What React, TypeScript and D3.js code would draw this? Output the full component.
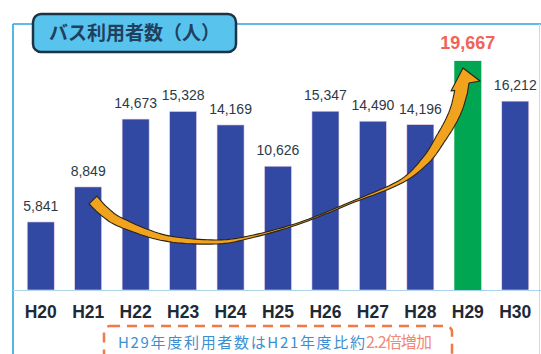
import React from "react";
import * as d3 from "d3";

const categories = ["H20", "H21", "H22", "H23", "H24", "H25", "H26", "H27", "H28", "H29", "H30"];
const values = [5841, 8849, 14673, 15328, 14169, 10626, 15347, 14490, 14196, 19667, 16212];
const highlight = "H29";
const title = "バス利用者数（人）";
const noteBlue = "H29年度利用者数はH21年度比約";
const noteRed = "2.2倍増加";

// decorative arrow centerline (pixels) and widths
const arrowPts: [number, number][] = [
  [93, 200], [105, 212], [122, 223], [165, 238], [215, 242], [250, 237], [300, 223],
  [350, 203], [400, 182], [426, 160], [441, 138], [451, 121], [457, 107], [461, 92],
];
const arrowW = [11, 10, 9, 6, 4, 2.5, 1.5, 1.5, 3.5, 8, 10, 11, 12, 13];

function catmull(pts: [number, number][], ws: number[], n = 12) {
  const out: { x: number; y: number; w: number }[] = [];
  for (let i = 0; i < pts.length - 1; i++) {
    const p0 = pts[Math.max(0, i - 1)], p1 = pts[i], p2 = pts[i + 1], p3 = pts[Math.min(pts.length - 1, i + 2)];
    for (let k = 0; k < n; k++) {
      const t = k / n, t2 = t * t, t3 = t2 * t;
      const f = (a: number, b: number, c: number, d: number) =>
        0.5 * (2 * b + (-a + c) * t + (2 * a - 5 * b + 4 * c - d) * t2 + (-a + 3 * b - 3 * c + d) * t3);
      out.push({ x: f(p0[0], p1[0], p2[0], p3[0]), y: f(p0[1], p1[1], p2[1], p3[1]), w: ws[i] + (ws[i + 1] - ws[i]) * t });
    }
  }
  const l = pts[pts.length - 1];
  out.push({ x: l[0], y: l[1], w: ws[ws.length - 1] });
  return out;
}

function arrowPath() {
  const s = catmull(arrowPts, arrowW);
  const left: [number, number][] = [];
  const right: [number, number][] = [];
  s.forEach((p, i) => {
    const a = s[Math.max(0, i - 1)], b = s[Math.min(s.length - 1, i + 1)];
    const dx = b.x - a.x, dy = b.y - a.y, len = Math.hypot(dx, dy) || 1;
    const nx = -dy / len, ny = dx / len;
    right.push([p.x + nx * p.w / 2, p.y + ny * p.w / 2]);
    left.push([p.x - nx * p.w / 2, p.y - ny * p.w / 2]);
  });
  const end = s[s.length - 1];
  const head: [number, number][] = [
    [end.x - 10, end.y - 1],
    [end.x + 2, end.y - 24],
    [end.x + 19, end.y - 11],
    [end.x + 8, end.y - 9],
  ];
  const poly = [...left, ...head, ...right.reverse()];
  return "M" + poly.map((p) => p[0].toFixed(1) + "," + p[1].toFixed(1)).join("L") + "Z";
}

export default function App() {
  const W = 541, H = 354;
  const x = d3.scaleBand<string>().domain(categories).range([17, 539]).paddingInner(0.43).paddingOuter(0.215);
  const y = d3.scaleLinear().domain([0, 20000]).range([290, 57]);
  const fmt = d3.format(",");
  const data = categories.map((c, i) => ({ c, v: values[i] }));

  return (
    <svg width={W} height={H} style={{ position: "absolute", left: 0, top: 0, display: "block", background: "#fff" }}
      fontFamily="Liberation Sans, Arial, sans-serif">
      {/* frame */}
      <line x1={13} x2={541} y1={24} y2={24} stroke="#2aa3e0" strokeWidth={1.6} />
      <line x1={13} x2={13} y1={24} y2={354} stroke="#2aa3e0" strokeWidth={1.6} />
      <line x1={539.5} x2={539.5} y1={24} y2={354} stroke="#f3c9cf" strokeWidth={1} />
      <line x1={13} x2={541} y1={290.5} y2={290.5} stroke="#a8d4ee" strokeWidth={1} />

      {/* bars */}
      {data.map((d) => (
        <rect key={d.c} x={x(d.c)} y={y(d.v)} width={x.bandwidth()} height={y(0) - y(d.v)}
          fill={d.c === highlight ? "#00a651" : "#3149a3"} stroke={d.c === highlight ? "none" : "#f6d6e6"} strokeWidth={0.6} />
      ))}

      {/* value labels */}
      {data.map((d) =>
        d.c === highlight ? (
          <text key={d.c} x={x(d.c)! + x.bandwidth() / 2} y={y(d.v) - 12} textAnchor="middle"
            fontSize={18} fontWeight="bold" fill="#f06356">{fmt(d.v)}</text>
        ) : (
          <text key={d.c} x={x(d.c)! + x.bandwidth() / 2} y={y(d.v) - 11} textAnchor="middle"
            fontSize={14} fill="#2c3a48">{fmt(d.v)}</text>
        )
      )}

      {/* category labels */}
      {categories.map((c) => (
        <text key={c} x={x(c)! + x.bandwidth() / 2} y={318} textAnchor="middle" fontSize={17.5}
          fontWeight="bold" fill="#1d2a36">{c}</text>
      ))}

      {/* arrow */}
      <path d={arrowPath()} fill="#f2a31e" stroke="#2a2418" strokeWidth={1.1} strokeLinejoin="round" />

      {/* title box */}
      <rect x={33} y={14} width={203} height={38} rx={8} fill="#58c4ee" stroke="#1c3344" strokeWidth={2.5} />
      <text x={134.5} y={40} textAnchor="middle" fontSize={19} fontWeight="bold" fill="#21405e"
        fontFamily="Noto Sans CJK JP, sans-serif">{title}</text>

      {/* note */}
      <rect x={104} y={326} width={348} height={50} rx={6} fill="none" stroke="#f07a45" strokeWidth={2.5}
        strokeDasharray="10 7" />
      <text x={118} y={348} fontSize={15} fill="#3d8fd0" textLength={247} lengthAdjust="spacing"
        fontFamily="Noto Sans CJK JP, sans-serif">{noteBlue}</text>
      <text x={366} y={348} fontSize={16} fill="#f08a7a" textLength={66} lengthAdjust="spacing"
        fontFamily="Noto Sans CJK JP, sans-serif">{noteRed}</text>
    </svg>
  );
}
